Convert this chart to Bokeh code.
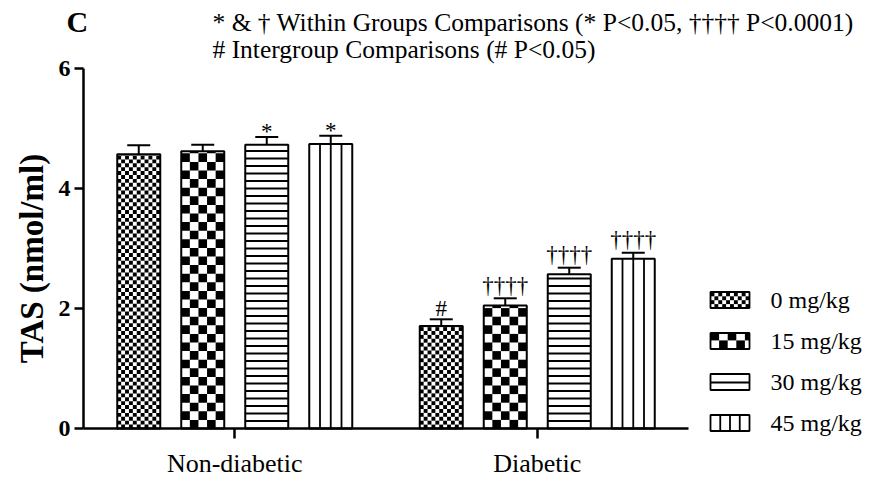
import math
from bokeh.plotting import figure
from bokeh.models import (ColumnDataSource, Range1d, FixedTicker, Whisker, TeeHead)
from bokeh.core.properties import value
from bokeh.embed import file_html
from bokeh.resources import INLINE

# ---- data -------------------------------------------------------------
groups = ["Non-diabetic", "Diabetic"]
doses = ["0 mg/kg", "15 mg/kg", "30 mg/kg", "45 mg/kg"]

tas_nondiabetic = [4.57, 4.62, 4.73, 4.74]
tas_diabetic = [1.71, 2.05, 2.57, 2.83]
sem_nondiabetic = [0.15, 0.11, 0.13, 0.14]
sem_diabetic = [0.11, 0.12, 0.11, 0.10]

marks_nondiabetic = ["", "", "*", "*"]
marks_diabetic = ["#", "††††", "††††", "††††"]

y_ticks = [0, 2, 4, 6]

note_line1 = "* & † Within Groups Comparisons (* P<0.05, †††† P<0.0001)"
note_line2 = "# Intergroup Comparisons (# P<0.05)"
panel_letter = "C"
y_title = "TAS (nmol/ml)"

# ---- layout (pixels) ----------------------------------------------------
W, H = 870, 477
AX_L, AX_R, AX_B, AX_T = 83, 688, 428, 68       # where the axes run
X_MAX, Y_MAX = 2.0, 6.0
PX_X = (AX_R - AX_L) / X_MAX                     # pixels per x unit
PX_Y = (AX_B - AX_T) / Y_MAX                     # pixels per y unit


def dx(px):
    return (px - AX_L) / PX_X


def dy(py):
    return (AX_B - py) / PX_Y


FONT = "Liberation Serif"
group_centers = [0.5, 1.5]
bar_step = 64 / PX_X
bar_width = 43 / PX_X

# fill styles per dose: fine checker, coarse checker, horizontal rules, vertical rules
styles = [("checker", 3.9), ("checker", 8.6), ("hlines", 7.5), ("vlines", 4)]
mark_lift = {"": 0, "*": -5, "#": -11, "††††": -13}

p = figure(width=W, height=H,
           x_range=Range1d(dx(0), dx(W)), y_range=Range1d(dy(H), dy(0)),
           min_border=0, min_border_left=0, min_border_right=0,
           min_border_top=0, min_border_bottom=0,
           output_backend="svg", toolbar_location=None)
p.outline_line_color = None
p.grid.visible = False
p.background_fill_color = "white"
p.border_fill_color = "white"


def checker(x0, x1, y0, y1, sq_px):
    sx, sy = sq_px / PX_X, sq_px / PX_Y
    L, R, B, T = [], [], [], []
    r = 0
    while y0 + r * sy < y1 - 1e-9:
        c = 0
        while x0 + c * sx < x1 - 1e-9:
            if (r + c) % 2 == 1:
                L.append(x0 + c * sx)
                R.append(min(x1, x0 + (c + 1) * sx))
                B.append(y0 + r * sy)
                T.append(min(y1, y0 + (r + 1) * sy))
            c += 1
        r += 1
    return L, R, B, T


def hlines(x0, x1, y0, y1, gap_px):
    g = gap_px / PX_Y
    xs0, xs1, ys = [], [], []
    k = 1
    while y0 + k * g < y1 - 3 / PX_Y:
        xs0.append(x0)
        xs1.append(x1)
        ys.append(y0 + k * g)
        k += 1
    return xs0, xs1, ys, ys


def vlines(x0, x1, y0, y1, ncols):
    xs = [x0 + (x1 - x0) * k / ncols for k in range(1, ncols)]
    return xs, xs, [y0] * len(xs), [y1] * len(xs)


def draw_fill(kind, size, boxes):
    L, R, B, T = [], [], [], []
    for (x0, x1, y0, y1) in boxes:
        parts = {"checker": checker, "hlines": hlines, "vlines": vlines}[kind](x0, x1, y0, y1, size)
        for acc, part in zip((L, R, B, T), parts):
            acc.extend(part)
    if kind == "checker":
        p.quad(left=L, right=R, bottom=B, top=T, fill_color="black", line_color=None)
    else:
        p.segment(x0=L, x1=R, y0=B, y1=T, line_color="black", line_width=1.8)


# ---- bars ---------------------------------------------------------------
for j, dose in enumerate(doses):
    xs = [c + (j - 1.5) * bar_step for c in group_centers]
    tops = [tas_nondiabetic[j], tas_diabetic[j]]
    errs = [sem_nondiabetic[j], sem_diabetic[j]]
    uppers = [t + e for t, e in zip(tops, errs)]
    marks = [marks_nondiabetic[j], marks_diabetic[j]]
    src = ColumnDataSource(dict(x=xs, top=tops, upper=uppers, mark=marks,
                                lift=[mark_lift[m] for m in marks]))

    p.vbar(x="x", top="top", bottom=0, width=bar_width, source=src,
           fill_color="white", line_color=None)
    kind, size = styles[j]
    draw_fill(kind, size, [(x - bar_width / 2, x + bar_width / 2, 0, t) for x, t in zip(xs, tops)])
    p.vbar(x="x", top="top", bottom=0, width=bar_width, source=src,
           fill_color=None, line_color="black", line_width=2)

    p.add_layout(Whisker(base="x", lower="top", upper="upper", source=src,
                         line_color="black", line_width=2,
                         upper_head=TeeHead(size=23, line_width=2, line_color="black"),
                         lower_head=None))

    p.text(x="x", y="upper", text="mark", source=src, y_offset="lift",
           text_align="center", text_baseline="alphabetic",
           text_font=value(FONT), text_font_size="23px", text_color="black")

# ---- axes ---------------------------------------------------------------
p.xaxis.fixed_location = 0
p.xaxis.bounds = (0, X_MAX)
p.xaxis.ticker = FixedTicker(ticks=group_centers)
p.xaxis.major_label_overrides = {c: g for c, g in zip(group_centers, groups)}
p.xaxis.minor_tick_line_color = None
p.xaxis.major_tick_in = 0
p.xaxis.major_tick_out = 10
p.xaxis.major_tick_line_width = 2.5
p.xaxis.axis_line_width = 2.5
p.xaxis.major_label_standoff = 10
p.xaxis.major_label_text_font = FONT
p.xaxis.major_label_text_font_size = "26px"
p.xaxis.major_label_text_color = "black"

p.yaxis.fixed_location = 0
p.yaxis.bounds = (0, Y_MAX)
p.yaxis.ticker = FixedTicker(ticks=y_ticks)
p.yaxis.minor_tick_line_color = None
p.yaxis.major_tick_in = 0
p.yaxis.major_tick_out = 9
p.yaxis.major_tick_line_width = 2.5
p.yaxis.axis_line_width = 2.5
p.yaxis.major_label_standoff = 4
p.yaxis.major_label_text_font = FONT
p.yaxis.major_label_text_font_style = "bold"
p.yaxis.major_label_text_font_size = "24px"
p.yaxis.major_label_text_color = "black"

p.text(x=[dx(31)], y=[dy(258)], text=[y_title], angle=math.pi / 2,
       text_align="center", text_baseline="middle",
       text_font=value(FONT), text_font_style="bold", text_font_size="33px",
       text_color="black")

# ---- header notes -------------------------------------------------------
p.text(x=[dx(66)], y=[dy(21)], text=[panel_letter],
       text_align="left", text_baseline="alphabetic",
       text_font=value(FONT), text_font_style="bold", text_font_size="30px",
       text_color="black")
p.text(x=[dx(212), dx(212)], y=[dy(22), dy(49)], text=[note_line1, note_line2],
       text_align="left", text_baseline="alphabetic",
       text_font=value(FONT), text_font_size="25.5px", text_color="black")

# ---- legend -------------------------------------------------------------
sw_l, sw_r, sw_h = dx(710), dx(749), 16 / PX_Y
row_y = [dy(299.5 + 41 * i) for i in range(len(doses))]
p.quad(left=sw_l, right=sw_r, bottom=[y - sw_h / 2 for y in row_y],
       top=[y + sw_h / 2 for y in row_y], fill_color="white", line_color=None)
for (kind, size), y in zip(styles, row_y):
    draw_fill(kind, size, [(sw_l, sw_r, y - sw_h / 2, y + sw_h / 2)])
p.quad(left=sw_l, right=sw_r, bottom=[y - sw_h / 2 for y in row_y],
       top=[y + sw_h / 2 for y in row_y], fill_color=None, line_color="black", line_width=1.8)
p.text(x=dx(770), y=row_y, text=doses, text_align="left", text_baseline="middle",
       text_font=value(FONT), text_font_size="24px", text_color="black")

open("out.html", "w").write(file_html(p, INLINE))
